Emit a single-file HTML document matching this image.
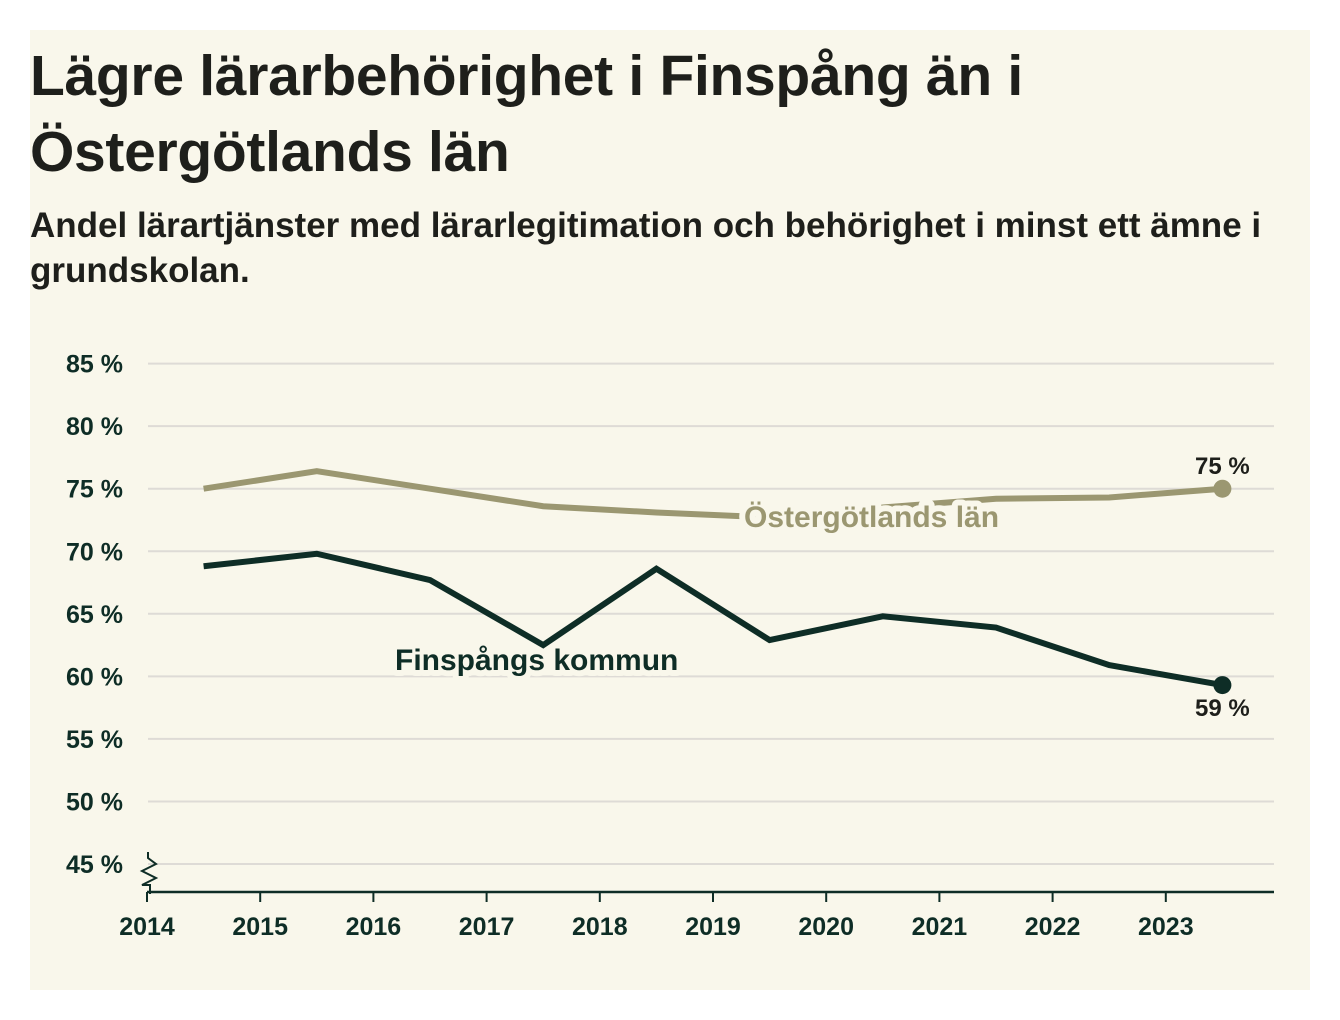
<!DOCTYPE html>
<html><head><meta charset="utf-8"><style>
body{margin:0;background:#fff;width:1340px;height:1020px;overflow:hidden;font-family:"Liberation Sans",sans-serif}
#card{position:absolute;left:30px;top:30px;width:1280px;height:960px;background:#f9f7eb}
h1{position:absolute;left:0;top:8px;margin:0;font-size:57px;line-height:76px;font-weight:bold;color:#1e1f1b;letter-spacing:-0.3px}
h2{position:absolute;left:0;top:173px;margin:0;font-size:35px;line-height:45px;font-weight:bold;color:#1e1f1b;width:1270px}
svg{position:absolute;left:0;top:0}
</style></head><body>
<div id="card">
<h1>Lägre lärarbehörighet i Finspång än i<br>Östergötlands län</h1>
<h2>Andel lärartjänster med lärarlegitimation och behörighet i minst ett ämne i grundskolan.</h2>
</div>
<svg id="chart" width="1340" height="1020"></svg>
<script>
const years=[2014,2015,2016,2017,2018,2019,2020,2021,2022,2023];
const yTicks=[45,50,55,60,65,70,75,80,85];
const ostValues=[75.0,76.4,75.0,73.6,73.1,72.7,73.5,74.2,74.3,75.0];
const finValues=[68.8,69.8,67.7,62.5,68.6,62.9,64.8,63.9,60.9,59.3];
const NS="http://www.w3.org/2000/svg";
const svg=document.getElementById('chart');
const x=v=>147+(v-2014)*113.2;
const y=v=>864-(v-45)*12.51;
function mk(t,a){const e=document.createElementNS(NS,t);for(const k in a)e.setAttribute(k,a[k]);svg.appendChild(e);return e;}
const C='#0e2d26',O='#9b9771',BG='#f9f7eb';
yTicks.forEach(v=>{
 const l=mk('line',{x1:148,x2:1274,y1:y(v),y2:y(v),stroke:'#dedbd6','stroke-width':2});
 
 
 const t=mk('text',{x:123,y:y(v)+9,'text-anchor':'end','font-size':25,'font-weight':'bold',fill:C,'font-family':'Liberation Sans'});
 t.textContent=v+' %';
 
 
});
const ax=mk('line',{x1:147,x2:1274,y1:892,y2:892,stroke:C,'stroke-width':2.5});


const br=mk('path',{d:'M148,852 v6 l8,6 l-14,7 l14,7 l-14,7 l8,0 v9',fill:'none',stroke:C,'stroke-width':2});


years.forEach(v=>{
 const tk=mk('line',{x1:x(v),x2:x(v),y1:892,y2:902,stroke:C,'stroke-width':2});
 
 
 const t=mk('text',{x:x(v),y:935,'text-anchor':'middle','font-size':25,'font-weight':'bold',fill:C,'font-family':'Liberation Sans'});
 t.textContent=v;
 
 
});
function series(vals,col,name){
 const pts=vals.map((v,i)=>x(years[i]+0.5)+','+y(v)).join(' ');
 const p=mk('polyline',{points:pts,fill:'none',stroke:col,'stroke-width':6,'stroke-linejoin':'miter'});
 
 
 const n=vals.length-1;
 const c=mk('circle',{cx:x(years[n]+0.5),cy:y(vals[n]),r:9,fill:col});
 
 
}
series(ostValues,O,'ostergotland');
series(finValues,C,'finspang');
function label(txt,xx,yy,col,name,anchor,fs){
 const t=mk('text',{x:xx,y:yy,'font-size':fs,'font-weight':'bold',fill:col,stroke:BG,'stroke-width':12,'paint-order':'stroke','stroke-linejoin':'round','font-family':'Liberation Sans','text-anchor':anchor||'start'});
 t.textContent=txt;
 
 
}
label('Östergötlands län',744,527,O,'ostergotland-label','start',30);
label('Finspångs kommun',395,670,C,'finspang-label','start',30);
label(ostValues[9].toFixed(0)+' %',x(2023.5),474,'#1e1f1b','ostergotland-value-label','middle',24);
label(finValues[9].toFixed(0)+' %',x(2023.5),716,'#1e1f1b','finspang-value-label','middle',24);
</script>
</body></html>
